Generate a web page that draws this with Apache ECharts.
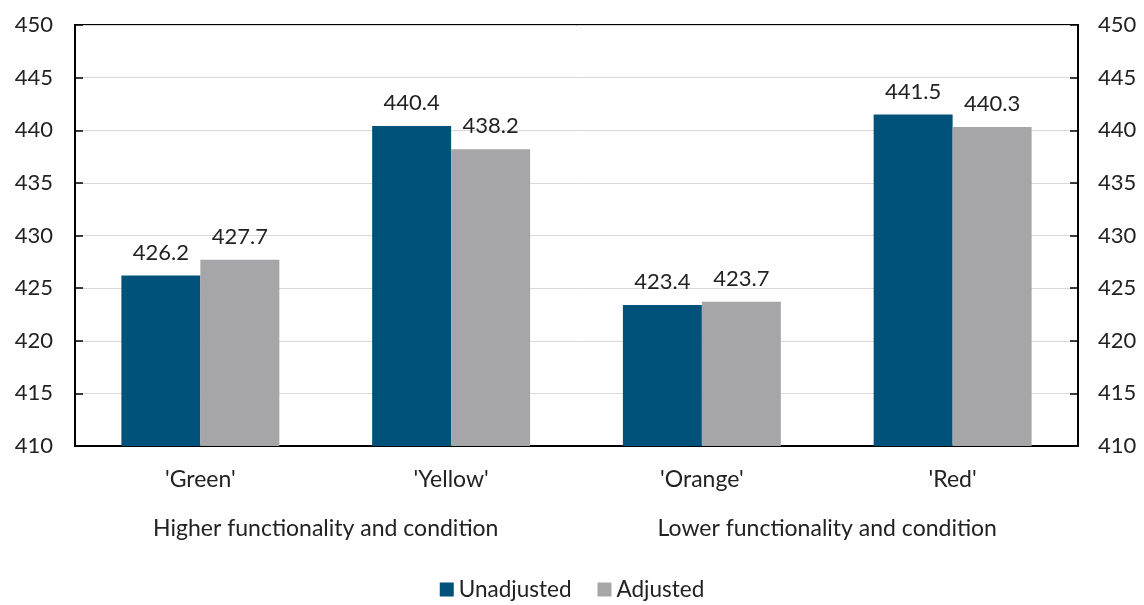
<!DOCTYPE html>
<html><head><meta charset="utf-8">
<script src="https://cdn.jsdelivr.net/npm/echarts@6/dist/echarts.min.js"></script>
<style>html,body{margin:0;padding:0;background:#fff}#c{width:1144px;height:605px}</style>
</head><body><div id="c"></div>
<script>
const categories = ["'Green'", "'Yellow'", "'Orange'", "'Red'"];
const groups = ["Higher functionality and condition", "Lower functionality and condition"];
const unadjusted = [426.2, 440.4, 423.4, 441.5];
const adjusted = [427.7, 438.2, 423.7, 440.3];
const seriesNames = ["Unadjusted", "Adjusted"];

const font = "Lato, 'Open Sans', sans-serif";
const txt = '#222';
const yAx = (pos) => ({
  type: 'value', position: pos, min: 410, max: 450, interval: 5,
  axisLine: {show: true, lineStyle: {color: '#000', width: 2}},
  axisTick: {show: true, inside: true, length: 8, lineStyle: {color: '#000', width: 1.5}},
  splitLine: {show: pos === 'left', lineStyle: {color: '#d9d9d9', width: 1}},
  axisLabel: {color: txt, fontSize: 22, fontFamily: font, margin: pos === 'left' ? 22 : 20}
});
const chart = echarts.init(document.getElementById('c'));
chart.setOption({
  animation: false,
  grid: {left: 75, right: 66, top: 25, bottom: 159, show: true, borderColor: '#000', borderWidth: 2, backgroundColor: 'transparent'},
  legend: {top: 573, left: 'center', itemWidth: 14, itemHeight: 14, itemGap: 26, icon: 'rect',
    textStyle: {color: txt, fontSize: 22.5, fontFamily: font}, data: seriesNames},
  xAxis: [
    {type: 'category', data: categories, position: 'bottom',
     axisLine: {show: true, lineStyle: {color: '#000', width: 2}}, axisTick: {show: false},
     axisLabel: {color: txt, fontSize: 23, fontFamily: font, margin: 22}},
    {type: 'category', data: groups, position: 'bottom', offset: 52,
     axisLine: {show: false}, axisTick: {show: false}, splitLine: {show: false},
     axisLabel: {color: txt, fontSize: 23, fontFamily: font, margin: 19}}
  ],
  yAxis: [yAx('left'), yAx('right')],
  series: [
    {name: seriesNames[0], type: 'bar', data: unadjusted, itemStyle: {color: '#00527A'},
     barGap: '0%', barCategoryGap: '37%',
     label: {show: true, position: 'top', distance: 12, color: txt, fontSize: 22, fontFamily: font, formatter: p => p.value.toFixed(1)}},
    {name: seriesNames[1], type: 'bar', data: adjusted, itemStyle: {color: '#A6A6A9'},
     label: {show: true, position: 'top', distance: 12, color: txt, fontSize: 22, fontFamily: font, formatter: p => p.value.toFixed(1)}}
  ]
});
</script></body></html>
